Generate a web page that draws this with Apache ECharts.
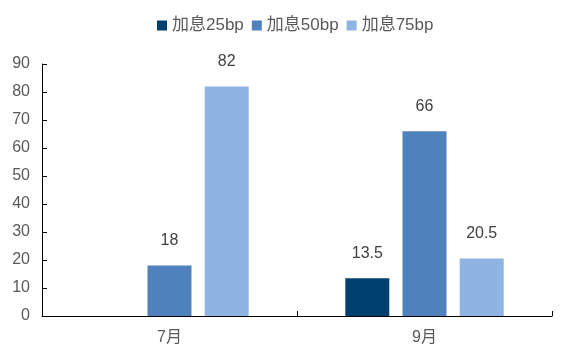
<!DOCTYPE html>
<html>
<head>
<meta charset="utf-8">
<script src="https://cdn.jsdelivr.net/npm/echarts@6/dist/echarts.min.js"></script>
<style>
  html, body { margin: 0; padding: 0; background: #fff; }
  #chart { width: 569px; height: 347px; }
</style>
</head>
<body>
<div id="chart"></div>
<script>
// Categories and series values
const months = ['7月', '9月'];
const hike25 = [null, 13.5];
const hike50 = [18, 66];
const hike75 = [82, 20.5];
const seriesNames = ['加息25bp', '加息50bp', '加息75bp'];
const yTicks = { min: 0, max: 90, interval: 10 };

const colors = ['#00406f', '#4f81bd', '#8eb4e3'];
const font = '"Liberation Sans", "Noto Sans CJK SC", sans-serif';

const labelStyle = {
  show: true,
  position: 'top',
  distance: 17,
  color: '#404040',
  fontSize: 16,
  fontFamily: font
};

function makeSeries(name, data, color) {
  return {
    name: name,
    type: 'bar',
    data: data,
    barWidth: 44,
    barGap: '30%',
    itemStyle: { color: color },
    label: labelStyle
  };
}

const chart = echarts.init(document.getElementById('chart'));
chart.setOption({
  animation: false,
  color: colors,
  legend: {
    top: 12,
    left: 152,
    itemWidth: 10,
    itemHeight: 10,
    itemGap: 8,
    icon: 'rect',
    textStyle: { color: '#595959', fontSize: 17, fontFamily: font },
    data: seriesNames
  },
  grid: { left: 42, right: 17, top: 64, bottom: 31, containLabel: false },
  xAxis: {
    type: 'category',
    data: months,
    axisLine: { lineStyle: { color: '#000', width: 1 } },
    axisTick: { show: true, inside: true, length: 5, lineStyle: { color: '#000' } },
    axisLabel: { color: '#595959', fontSize: 16, margin: 14, fontFamily: font }
  },
  yAxis: {
    type: 'value',
    min: yTicks.min,
    max: yTicks.max,
    interval: yTicks.interval,
    splitLine: { show: false },
    axisLine: { show: true, lineStyle: { color: '#000', width: 1 } },
    axisTick: { show: true, inside: true, length: 5, lineStyle: { color: '#000' } },
    axisLabel: { color: '#595959', fontSize: 16, margin: 12, fontFamily: font }
  },
  series: [
    makeSeries(seriesNames[0], hike25, colors[0]),
    makeSeries(seriesNames[1], hike50, colors[1]),
    makeSeries(seriesNames[2], hike75, colors[2])
  ]
});
</script>
</body>
</html>
